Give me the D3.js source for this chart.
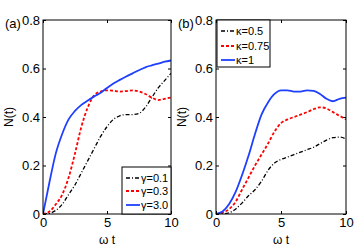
<!DOCTYPE html>
<html>
<head>
<meta charset="utf-8">
<script src="https://cdnjs.cloudflare.com/ajax/libs/d3/7.8.5/d3.min.js"></script>
<style>
  body { margin: 0; background: #fff; }
  svg { display: block; font-family: "Liberation Sans", Arial, sans-serif; }
</style>
</head>
<body>
<svg id="chart" width="360" height="250"></svg>
<script>
// time grid
const tA = [0, 0.5, 1, 1.5, 2, 2.5, 3, 3.5, 4, 4.5, 5, 5.5, 6, 6.5, 7, 7.5, 8, 8.5, 9, 9.5, 10];

// panel (a)
const gamma01 = [0, 0.003, 0.015, 0.04, 0.08, 0.12, 0.17, 0.22, 0.27, 0.32, 0.36, 0.39, 0.405, 0.41, 0.41, 0.415, 0.44, 0.48, 0.52, 0.55, 0.58];
const gamma03 = [0, 0.01, 0.04, 0.08, 0.15, 0.25, 0.36, 0.44, 0.49, 0.505, 0.51, 0.508, 0.505, 0.507, 0.51, 0.505, 0.495, 0.48, 0.47, 0.475, 0.48];
const gamma30 = [0, 0.13, 0.25, 0.33, 0.39, 0.425, 0.45, 0.468, 0.485, 0.5, 0.52, 0.538, 0.553, 0.567, 0.58, 0.593, 0.605, 0.613, 0.62, 0.628, 0.633];

// panel (b)
const kappa05 = [0, 0.001, 0.005, 0.02, 0.045, 0.075, 0.10, 0.135, 0.18, 0.21, 0.225, 0.235, 0.245, 0.255, 0.265, 0.275, 0.29, 0.305, 0.315, 0.317, 0.31];
const kappa075 = [0, 0.005, 0.02, 0.05, 0.10, 0.15, 0.20, 0.245, 0.29, 0.34, 0.375, 0.39, 0.40, 0.41, 0.42, 0.432, 0.44, 0.435, 0.42, 0.405, 0.39];
const kappa1 = [0, 0.01, 0.04, 0.09, 0.16, 0.24, 0.33, 0.41, 0.46, 0.495, 0.51, 0.51, 0.505, 0.505, 0.51, 0.508, 0.495, 0.475, 0.465, 0.475, 0.48];

const xTicks = [0, 5, 10];
const yTicks = [0, 0.2, 0.4, 0.6, 0.8];

const styles = [
  {color: '#000', dash: '4,2,1,2', width: 1.3},
  {color: '#ff0000', dash: '3,2', width: 1.8},
  {color: '#1f3fff', dash: null, width: 1.8}
];

const panels = [
  {tag: '(a)', left: 43, right: 171, series: [gamma01, gamma03, gamma30],
   labels: ['\u03b3=0.1', '\u03b3=0.3', '\u03b3=3.0'],
   legend: {x: 122, y: 167, w: 49, h: 47, rows: [178, 191, 205]}},
  {tag: '(b)', left: 216, right: 346, series: [kappa05, kappa075, kappa1],
   labels: ['\u03ba=0.5', '\u03ba=0.75', '\u03ba=1'],
   legend: {x: 217, y: 20, w: 53, h: 47, rows: [31, 46, 60]}}
];

const plotTop = 20, plotBottom = 214;
const svg = d3.select('#chart');

panels.forEach((p, pi) => {
  const x = d3.scaleLinear().domain([0, 10]).range([p.left, p.right]);
  const y = d3.scaleLinear().domain([0, 0.8]).range([plotBottom, plotTop]);
  const g = svg.append('g');

  const line = d3.line()
    .x((d, i) => x(tA[i]))
    .y(d => y(d))
    .curve(d3.curveMonotoneX);

  // clip
  const clipId = 'clip' + pi;
  svg.append('clipPath').attr('id', clipId).append('rect')
    .attr('x', p.left).attr('y', plotTop).attr('width', p.right - p.left).attr('height', plotBottom - plotTop);

  p.series.forEach((s, i) => {
    g.append('path')
      .attr('d', line(s))
      .attr('fill', 'none')
      .attr('clip-path', `url(#${clipId})`)
      .attr('stroke', styles[i].color)
      .attr('stroke-width', styles[i].width)
      .attr('stroke-dasharray', styles[i].dash);
  });

  // frame
  g.append('rect')
    .attr('x', p.left).attr('y', plotTop)
    .attr('width', p.right - p.left).attr('height', plotBottom - plotTop)
    .attr('fill', 'none').attr('stroke', '#000').attr('stroke-width', 1);

  // axes with inside ticks
  g.append('g').attr('transform', `translate(0,${plotBottom})`)
    .call(d3.axisBottom(x).tickValues(xTicks).tickSize(-3).tickPadding(4).tickFormat(d3.format('d')))
    .call(a => a.select('.domain').remove());
  g.append('g').attr('transform', `translate(0,${plotTop})`)
    .call(d3.axisTop(x).tickValues(xTicks).tickSize(-3).tickFormat(''))
    .call(a => a.select('.domain').remove());
  g.append('g').attr('transform', `translate(${p.left},0)`)
    .call(d3.axisLeft(y).tickValues(yTicks).tickSize(-3).tickPadding(3).tickFormat(d => d === 0 ? '0' : d3.format('.1f')(d)))
    .call(a => a.select('.domain').remove());
  g.append('g').attr('transform', `translate(${p.right},0)`)
    .call(d3.axisRight(y).tickValues(yTicks).tickSize(-3).tickFormat(''))
    .call(a => a.select('.domain').remove());
  g.selectAll('.tick text').attr('font-size', 13).attr('font-family', '"Liberation Sans", Arial, sans-serif').attr('fill', '#000');
  g.selectAll('.tick line').attr('stroke', '#000');

  // labels
  g.append('text').attr('x', p.left - 38).attr('y', 28).attr('font-size', 13).text(p.tag);
  g.append('text')
    .attr('transform', `translate(${p.left - 30},${(plotTop + plotBottom) / 2}) rotate(-90)`)
    .attr('text-anchor', 'middle').attr('font-size', 12).text('N(t)');
  g.append('text')
    .attr('x', (p.left + p.right) / 2).attr('y', 244)
    .attr('text-anchor', 'middle').attr('font-size', 12).text('\u03c9 t');

  // legend
  const L = p.legend;
  g.append('rect').attr('x', L.x).attr('y', L.y).attr('width', L.w).attr('height', L.h)
    .attr('fill', '#fff').attr('stroke', '#000').attr('stroke-width', 1);
  p.labels.forEach((lab, i) => {
    g.append('line')
      .attr('x1', L.x + 4).attr('x2', L.x + 18)
      .attr('y1', L.rows[i]).attr('y2', L.rows[i])
      .attr('stroke', styles[i].color).attr('stroke-width', styles[i].width)
      .attr('stroke-dasharray', styles[i].dash);
    g.append('text').attr('x', L.x + 19).attr('y', L.rows[i] + 4)
      .attr('font-size', 11).text(lab);
  });
});
</script>
</body>
</html>
